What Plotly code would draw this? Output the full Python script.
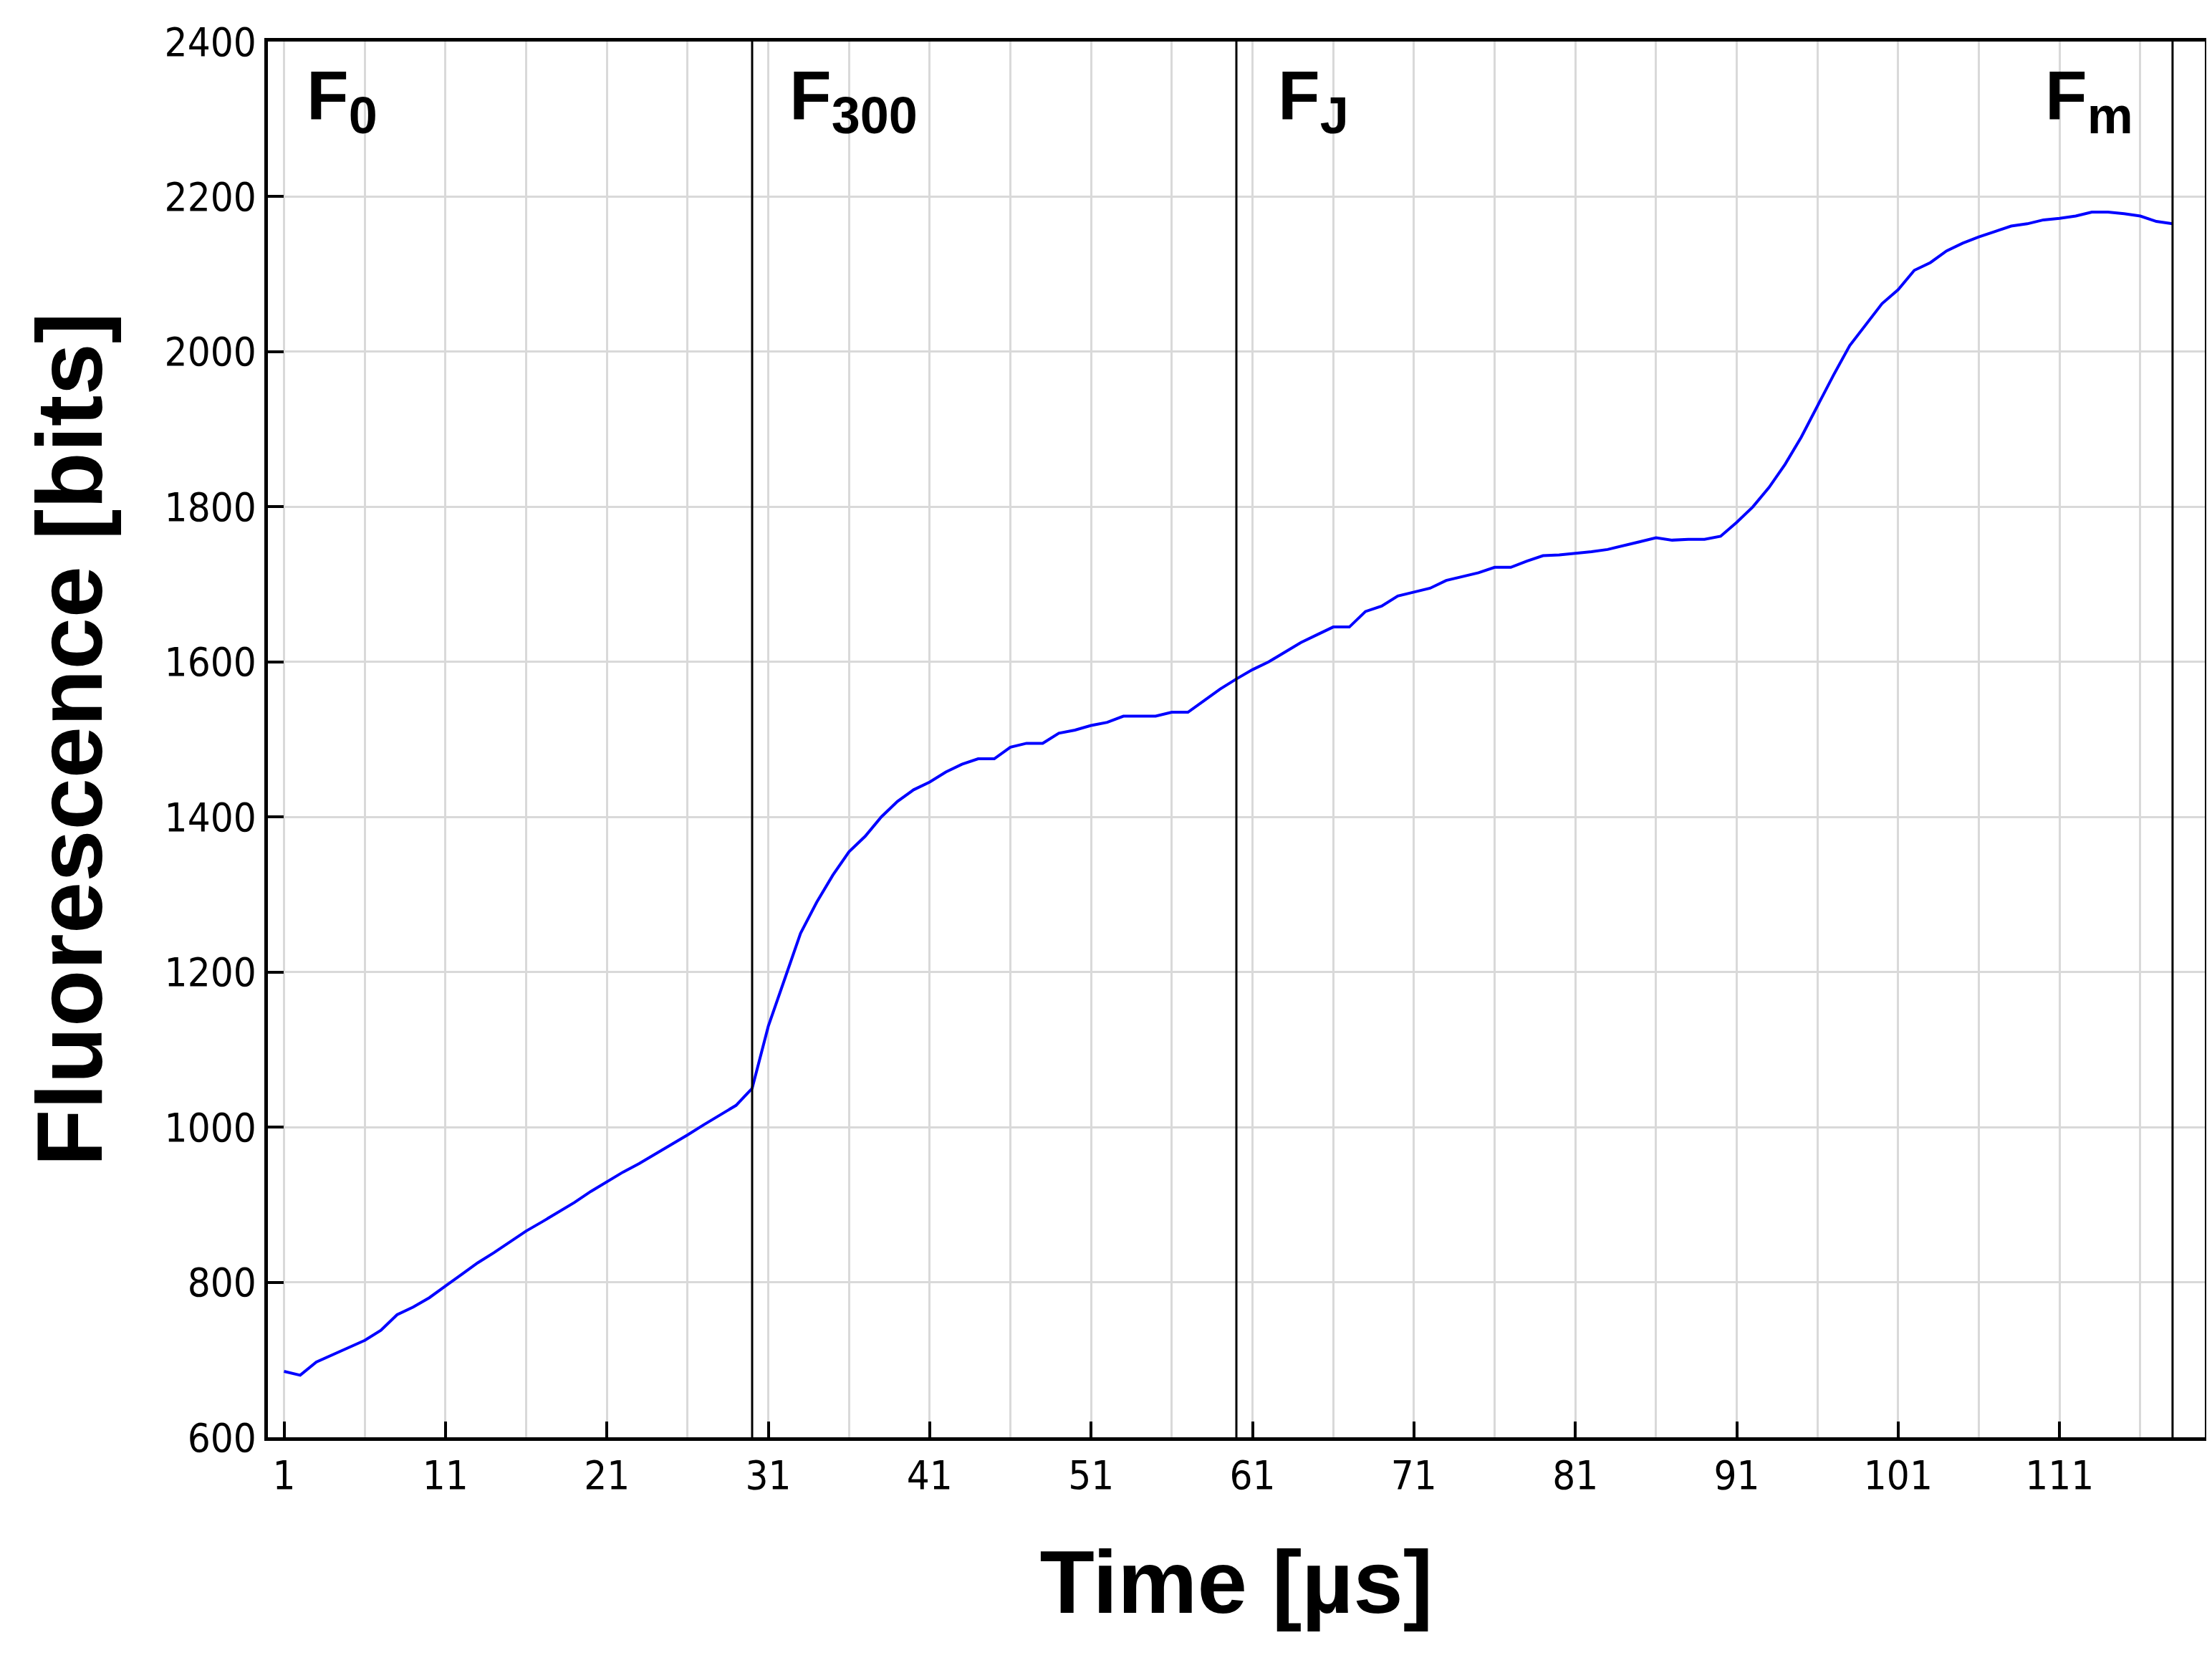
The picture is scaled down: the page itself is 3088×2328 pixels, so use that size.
import plotly.graph_objects as go

time_us = list(range(1, 119))
fluorescence = [685,680,697,706,715,725,738,758,768,780,795,810,825,838,852,866,878,890,903,917,
                930,942,953,965,978,990,1003,1015,1028,1050,
                1130,1190,1250,1290,1325,1355,1375,1400,1420,1435,1445,1458,1468,1475,1475,1490,1495,1495,1508,1512,
                1518,1522,1530,1530,1530,1535,1535,1550,1565,1578,1590,1600,1612,1625,1635,1645,1645,1665,1672,1685,
                1690,1695,1705,1710,1715,1722,1722,1730,1737,1738,1740,1742,1745,1750,1755,1760,1757,1758,1758,1762,
                1780,1800,1825,1855,1890,1930,1970,2008,2035,2062,2080,2105,2115,2130,2140,2148,2155,2162,2165,2170,
                2172,2175,2180,2180,2178,2175,2168,2165]
marker_x = [30, 60, 118]
label_x = [2.3, 32.2, 62.5, 110]
labels = ["F<sub><span style='font-size:72px'>0</span></sub>",
          "F<sub><span style='font-size:72px'>300</span></sub>",
          "F<sub><span style='font-size:72px'>J</span></sub>",
          "F<sub><span style='font-size:72px'>m</span></sub>"]
x_ticks = list(range(1, 112, 10))

fig = go.Figure()
fig.add_trace(go.Scatter(x=time_us, y=fluorescence, mode="lines",
                         line=dict(color="#0000ff", width=4), showlegend=False))
for mx in marker_x:
    fig.add_vline(x=mx, line=dict(color="black", width=3))
for lx, t in zip(label_x, labels):
    fig.add_annotation(x=lx, y=0.99, xref="x", yref="paper", text="<b>" + t + "</b>",
                       showarrow=False, xanchor="left", yanchor="top",
                       font=dict(family="Liberation Sans, Arial", size=96, color="black"))

fig.update_layout(
    width=3088, height=2328, paper_bgcolor="white", plot_bgcolor="white",
    margin=dict(l=366, r=18, t=50, b=330),
    font=dict(family="Liberation Sans Narrow, DejaVu Sans Condensed, Liberation Sans, Arial", color="black", size=56),
)
fig.update_xaxes(range=[0, 120], tickvals=x_ticks, ticks="inside", ticklen=22, tickwidth=4,
                 tickcolor="black", showgrid=False, showline=True, linecolor="black", linewidth=5,
                 mirror=True, minor=dict(dtick=5, tick0=1, showgrid=True, gridcolor="#d9d9d9", gridwidth=3),
                 title=dict(text="<b>Time [µs]</b>", font=dict(family="Liberation Sans, Arial", size=125), standoff=75),
                 tickfont=dict(size=56))
fig.update_yaxes(range=[600, 2400], dtick=200, ticks="inside", ticklen=22, tickwidth=4, tickcolor="black",
                 showgrid=True, gridcolor="#d9d9d9", gridwidth=3, showline=True, linecolor="black",
                 linewidth=5, mirror=True, zeroline=False,
                 title=dict(text="<b>Fluorescence [bits]</b>", font=dict(family="Liberation Sans, Arial", size=130), standoff=45),
                 tickfont=dict(size=56))
fig.write_html("out.html")
